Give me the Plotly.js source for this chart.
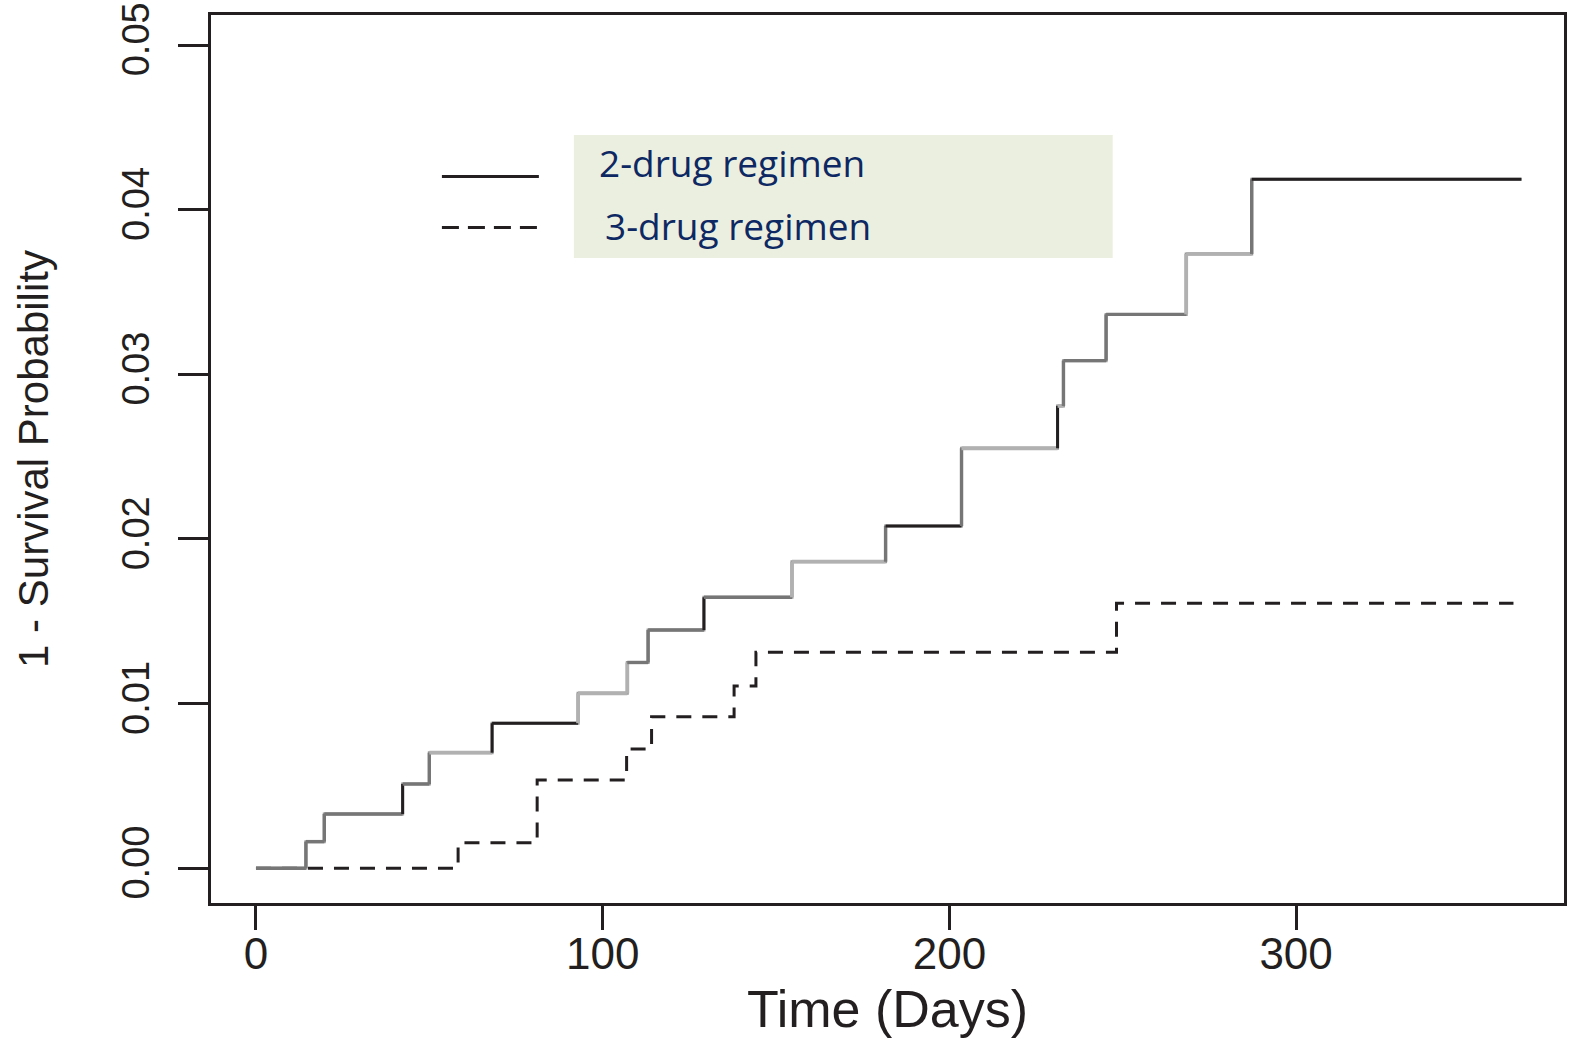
<!DOCTYPE html>
<html>
<head>
<meta charset="utf-8">
<script src="https://cdn.plot.ly/plotly-3.0.1.min.js"></script>
<style>
  html, body { margin: 0; padding: 0; background: #ffffff; }
  #chart { width: 1570px; height: 1038px; }
</style>
</head>
<body>
<div id="chart"></div>
<script>
// ---------------- DATA ----------------
// 2-drug regimen: Kaplan-Meier step curve (1 - survival)
const twoDrugDays = [0, 14.4, 19.7, 42.3, 50.0, 68.1, 92.9, 107.1, 113.1, 129.2, 154.6, 181.6, 203.5, 231.2, 232.9, 245.2, 268.3, 287.2, 365.0];
const twoDrugProb = [0, 0.00162, 0.00330, 0.00512, 0.00702, 0.00881, 0.01063, 0.01250, 0.01447, 0.01646, 0.01862, 0.02079, 0.02551, 0.02808, 0.03083, 0.03364, 0.03731, 0.04184, 0.04184];

// 3-drug regimen
const threeDrugDays = [0, 58.3, 81.1, 106.9, 114.1, 137.9, 144.2, 248.2, 362.7];
const threeDrugProb = [0, 0.00155, 0.00536, 0.00725, 0.00921, 0.01107, 0.01312, 0.01609, 0.01609];

// axis ticks
const xTicks = [0, 100, 200, 300];
const yTicks = [0, 0.01, 0.02, 0.03, 0.04, 0.05];

// legend labels
const seriesNames = ["2-drug regimen", "3-drug regimen"];

// ---------------- STYLE ----------------
// shade of each horizontal run / vertical rise of the 2-drug curve (scan look)
const hShade = ['d','d','d','d','l','k','l','d','d','d','l','k','l','l','d','d','l','k'];
const vShade = ['d','d','k','d','k','l','l','d','k','l','d','d','k','d','d','l','d'];
const shadeColor = { k: '#231f20', d: '#767676', l: '#b1b1b1' };
const shadeWidth = { k: 3, d: 3.4, l: 3.8 };
const INK = '#231f20';

function hasFont(name) {
  const c = document.createElement('canvas').getContext('2d');
  const s = '0.05 1 - Survival Probability';
  c.font = '40px monospace';
  const a = c.measureText(s).width;
  c.font = '40px "' + name + '", monospace';
  const b = c.measureText(s).width;
  return Math.abs(a - b) > 1;
}
const narrow = hasFont('Liberation Sans Narrow');
const yFontFamily = narrow ? '"Liberation Sans Narrow", "Liberation Sans", Arial, sans-serif' : '"Liberation Sans", Arial, sans-serif';
const yTickSize = narrow ? 46 : 38;
const yTitleSize = narrow ? 50 : 42;

// plot-area geometry in pixels
const M = { l: 211, t: 15, r: 5.5, b: 135 };
const W = 1570, H = 1038;
const PW = W - M.l - M.r, PH = H - M.t - M.b;
const px2x = p => (p - M.l) / PW;
const px2y = p => (M.t + PH - p) / PH;

// ---------------- TRACES ----------------
const traces = [];

// 3-drug (dashed) first, underneath
traces.push({
  x: threeDrugDays, y: threeDrugProb, type: 'scatter', mode: 'lines',
  line: { shape: 'hv', color: INK, width: 3, dash: '15px,11px' },
  hoverinfo: 'skip', showlegend: false, name: seriesNames[1]
});

// 2-drug base (fills the corners)
traces.push({
  x: twoDrugDays, y: twoDrugProb, type: 'scatter', mode: 'lines',
  line: { shape: 'hv', color: '#9a9a9a', width: 3 },
  hoverinfo: 'skip', showlegend: false, name: seriesNames[0]
});

// 2-drug segments with scanned shades
for (let i = 0; i < twoDrugDays.length - 1; i++) {
  const s = hShade[i];
  traces.push({
    x: [twoDrugDays[i], twoDrugDays[i + 1]], y: [twoDrugProb[i], twoDrugProb[i]],
    type: 'scatter', mode: 'lines',
    line: { color: shadeColor[s], width: shadeWidth[s] },
    hoverinfo: 'skip', showlegend: false
  });
  if (i + 1 < twoDrugDays.length - 1) {
    const v = vShade[i];
    traces.push({
      x: [twoDrugDays[i + 1], twoDrugDays[i + 1]], y: [twoDrugProb[i], twoDrugProb[i + 1]],
      type: 'scatter', mode: 'lines',
      line: { color: shadeColor[v], width: shadeWidth[v] },
      hoverinfo: 'skip', showlegend: false
    });
  }
}

// ---------------- LAYOUT ----------------
const layout = {
  width: W, height: H,
  margin: M,
  paper_bgcolor: '#ffffff', plot_bgcolor: '#ffffff',
  showlegend: false,
  font: { family: '"Liberation Sans", Arial, sans-serif', color: INK },
  xaxis: {
    range: [(M.l - 256) / 3.4683, (M.l + PW - 256) / 3.4683],
    tickvals: xTicks, ticktext: xTicks.map(String),
    showgrid: false, zeroline: false,
    showline: true, mirror: true, linecolor: INK, linewidth: 3,
    ticks: 'outside', ticklen: 24, tickwidth: 3, tickcolor: INK,
    tickfont: { size: 44, color: INK },
    ticklabelstandoff: -14,
    title: { text: 'Time (Days)', font: { size: 52, color: INK }, standoff: 35 }
  },
  yaxis: {
    range: [-(M.t + PH - 868.3) / 16466, (868.3 - M.t) / 16466],
    tickvals: yTicks, ticktext: yTicks.map(v => v.toFixed(2)),
    tickangle: -90,
    showgrid: false, zeroline: false,
    showline: true, mirror: true, linecolor: INK, linewidth: 3,
    ticks: 'outside', ticklen: 30, tickwidth: 3, tickcolor: INK,
    tickfont: { size: yTickSize, color: INK, family: yFontFamily },
    ticklabelstandoff: 14,
    title: { text: '1 - Survival Probability', font: { size: yTitleSize, color: INK, family: yFontFamily }, standoff: 54 }
  },
  shapes: [
    { type: 'rect', xref: 'paper', yref: 'paper', layer: 'below',
      x0: px2x(574), x1: px2x(1113), y0: px2y(258), y1: px2y(135),
      fillcolor: '#ebefe0', line: { width: 0 } },
    { type: 'line', xref: 'paper', yref: 'paper',
      x0: px2x(442), x1: px2x(539), y0: px2y(176.5), y1: px2y(176.5),
      line: { color: INK, width: 3 } },
    { type: 'line', xref: 'paper', yref: 'paper',
      x0: px2x(442), x1: px2x(539), y0: px2y(227.5), y1: px2y(227.5),
      line: { color: INK, width: 3, dash: '17px,9px' } }
  ],
  annotations: [
    { xref: 'paper', yref: 'paper', x: px2x(597), y: px2y(162), xanchor: 'left', yanchor: 'middle',
      text: seriesNames[0], showarrow: false,
      font: { family: '"Open Sans", "Noto Sans", sans-serif', size: 37, color: '#0d2862' } },
    { xref: 'paper', yref: 'paper', x: px2x(603), y: px2y(226), xanchor: 'left', yanchor: 'middle',
      text: seriesNames[1], showarrow: false,
      font: { family: '"Open Sans", "Noto Sans", sans-serif', size: 37, color: '#0d2862' } }
  ]
};

Plotly.newPlot('chart', traces, layout, { displayModeBar: false, staticPlot: true });
</script>
</body>
</html>
